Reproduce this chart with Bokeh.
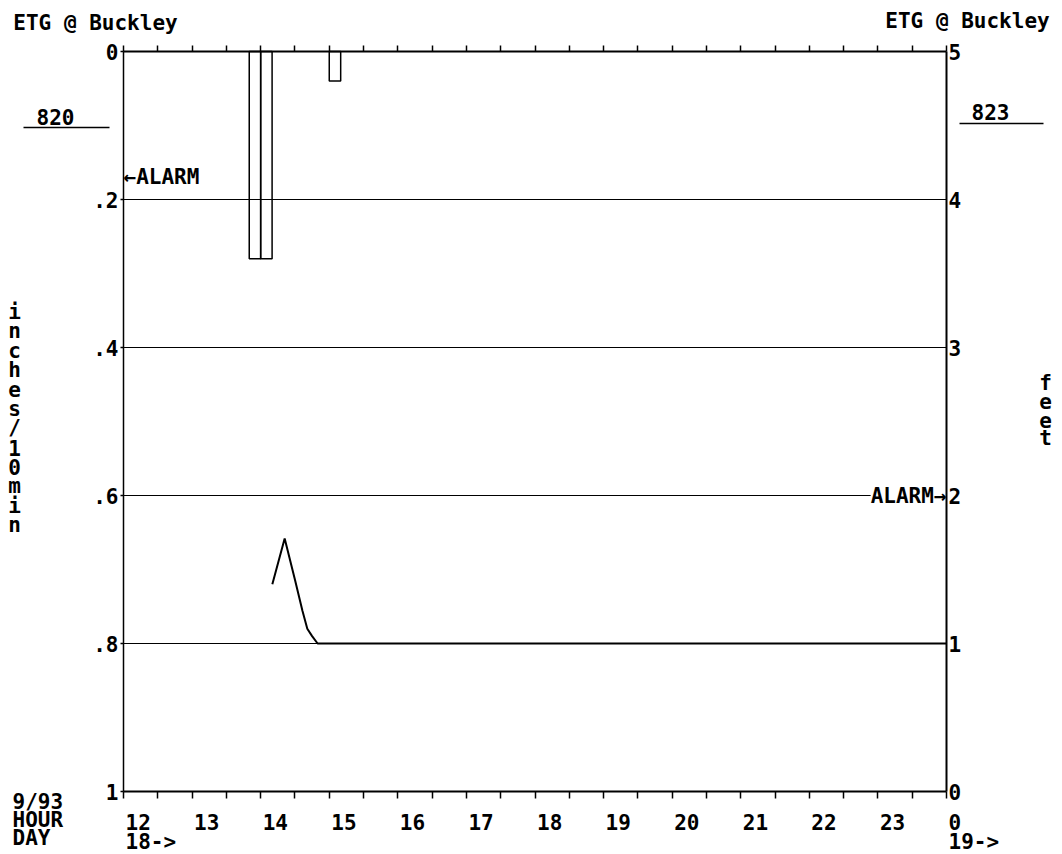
from bokeh.plotting import figure
from bokeh.models import (Range1d, LinearAxis, FixedTicker, Label, LabelSet,
                          ColumnDataSource, Arrow)
from bokeh.embed import file_html
from bokeh.resources import INLINE
from bokeh.core.properties import value

# ---------------- data ----------------
station = "ETG @ Buckley"
rain_gauge_id = "820"
stage_gauge_id = "823"

rain_start_hour = [13 + 50 / 60, 14.0, 15.0]      # 10-minute rainfall intervals
rain_inches = [0.28, 0.28, 0.04]
rain_interval_hours = 10 / 60

stage_hour = [14.17, 14.35, 14.50, 14.61, 14.68, 14.75, 14.83, 24.0]
stage_feet = [1.40, 1.71, 1.43, 1.22, 1.10, 1.05, 1.00, 1.00]

rain_alarm_inches = 0.17
stage_alarm_feet = 2.0

hour_ticks = [12, 13, 14, 15, 16, 17, 18, 19, 20, 21, 22, 23, 24]
hour_labels = ["12", "13", "14", "15", "16", "17", "18", "19", "20", "21", "22", "23", "0"]
day_hours = [12, 24]
day_labels = ["18->", "19->"]
inch_ticks = [0, 0.2, 0.4, 0.6, 0.8, 1]
inch_labels = ["0", ".2", ".4", ".6", ".8", "1"]
inch_grid = [0.2, 0.4, 0.6, 0.8]
feet_ticks = [0, 1, 2, 3, 4, 5]
feet_labels = ["0", "1", "2", "3", "4", "5"]
corner_labels = ["9/93", "HOUR", "DAY"]
left_title = "inches/10min"
right_title = "feet"

# ---------------- layout ----------------
W, H = 1062, 854            # canvas
FL, FT = 123, 51            # plot box left / top in pixels
FW, FH = 823, 740           # plot box size in pixels
X0, X1 = 12, 24             # hours shown
I0, I1 = 0, 1               # inches shown (top -> bottom)
F0, F1 = 0, 5               # feet shown (bottom -> top)
FONT = "DejaVu Sans Mono"
FS = "21px"

hp = FW / (X1 - X0)         # pixels per hour
ip = FH / (I1 - I0)         # pixels per inch
fp = FH / (F1 - F0)         # pixels per foot


def hx(dx):
    """pixels right of the plot box's left edge -> hours"""
    return X0 + dx / hp


def iy(dy):
    """pixels below the plot box's top edge -> inches (inverted axis)"""
    return I0 + dy / ip


p = figure(width=W, height=H,
           x_range=Range1d(X0 - FL / hp, X1 + (W - FL - FW) / hp),
           y_range=Range1d(I1 + (H - FT - FH) / ip, I0 - FT / ip),
           x_axis_location=None, y_axis_location=None,
           output_backend="svg", toolbar_location=None,
           min_border=0)
p.extra_y_ranges = {"feet": Range1d(F0 - (H - FT - FH) / fp, F1 + FT / fp)}
p.background_fill_color = "white"
p.border_fill_color = "white"
p.outline_line_color = None
p.grid.visible = False

half_hours = [X0 + 0.5 * k for k in range(int((X1 - X0) * 2) + 1)]


def style_ticks(ax, out):
    ax.major_tick_out = out
    ax.major_tick_in = 0
    ax.minor_tick_out = out
    ax.minor_tick_in = 0
    ax.major_tick_line_width = 1.5
    ax.minor_tick_line_width = 1.5
    ax.major_tick_line_color = "black"
    ax.minor_tick_line_color = "black"
    ax.axis_line_color = "black"


# bottom axis: half-hour ticks (labels are drawn left-aligned below)
ba = LinearAxis(fixed_location=I1, bounds=(X0, X1),
                ticker=FixedTicker(ticks=[], minor_ticks=half_hours))
style_ticks(ba, 7)
ba.axis_line_width = 2
p.add_layout(ba, "below")

# top axis
ta = LinearAxis(fixed_location=I0, bounds=(X0, X1),
                ticker=FixedTicker(ticks=[], minor_ticks=half_hours))
style_ticks(ta, 6)
ta.axis_line_width = 2
p.add_layout(ta, "above")

# left axis: inches / 10 min (inverted)
la = LinearAxis(fixed_location=X0, bounds=(I0, I1),
                ticker=FixedTicker(ticks=inch_ticks))
la.major_label_overrides = {t: l for t, l in zip(inch_ticks, inch_labels)}
style_ticks(la, 3)
la.minor_tick_line_color = None
la.axis_line_width = 1.5
la.major_label_standoff = 2
la.major_label_text_font = FONT
la.major_label_text_font_style = "bold"
la.major_label_text_font_size = FS
la.major_label_text_color = "black"
p.add_layout(la, "left")

# right axis: feet
ra = LinearAxis(y_range_name="feet", fixed_location=X1, bounds=(F0, F1),
                ticker=FixedTicker(ticks=feet_ticks))
ra.major_label_overrides = {t: l for t, l in zip(feet_ticks, feet_labels)}
style_ticks(ra, 0)
ra.minor_tick_line_color = None
ra.axis_line_width = 2
ra.major_label_standoff = 2
ra.major_label_text_font = FONT
ra.major_label_text_font_style = "bold"
ra.major_label_text_font_size = FS
ra.major_label_text_color = "black"
p.add_layout(ra, "right")

# horizontal grid lines across the plot box
p.segment(x0=[X0] * len(inch_grid), x1=[X1] * len(inch_grid),
          y0=inch_grid, y1=inch_grid, line_color="black", line_width=1)

# rainfall bars
p.quad(left=rain_start_hour,
       right=[s + rain_interval_hours for s in rain_start_hour],
       top=[I0] * len(rain_inches), bottom=rain_inches,
       fill_color=None, line_color="black", line_width=1.5)

# stage line
p.line(stage_hour, stage_feet, y_range_name="feet",
       line_color="black", line_width=2)

# alarms
p.add_layout(Label(x=X0, y=rain_alarm_inches, text="\u2190ALARM",
                   text_align="left", text_baseline="middle",
                   text_font=FONT, text_font_style="bold", text_font_size=FS,
                   text_color="black"))
p.add_layout(Label(x=X1, y=stage_alarm_feet, y_range_name="feet",
                   text="ALARM\u2192", text_align="right", text_baseline="middle",
                   text_font=FONT, text_font_style="bold", text_font_size=FS,
                   text_color="black", background_fill_color="white",
                   level="glyph"))


def add_text(txt, dx, dy, align="center"):
    p.add_layout(Label(x=hx(dx), y=iy(dy), text=txt, text_align=align,
                       text_baseline="middle", text_font=FONT,
                       text_font_style="bold", text_font_size=FS,
                       text_color="black"))


# titles and gauge ids
add_text(station, -28, -29)
add_text(station, 844, -31)
add_text(rain_gauge_id, -68, 65)
add_text(stage_gauge_id, 867, 60)
for (xa0, xa1, yy) in [(-100, -14, 76), (836, 920, 72)]:
    p.add_layout(Arrow(x_start=hx(xa0), x_end=hx(xa1), y_start=iy(yy), y_end=iy(yy),
                       start=None, end=None, line_color="black", line_width=1.5))


def label_set(xs, ys, texts, align):
    src = ColumnDataSource(dict(x=xs, y=ys, t=texts))
    p.add_layout(LabelSet(x="x", y="y", text="t", source=src,
                          text_align=align, text_baseline="middle",
                          text_font=value(FONT), text_font_style="bold",
                          text_font_size=FS, text_color="black"))


# bottom hour / day labels (left aligned at their ticks)
label_set([h + 2 / hp for h in hour_ticks], [iy(FH + 30)] * len(hour_ticks),
          hour_labels, "left")
label_set([h + 2 / hp for h in day_hours], [iy(FH + 50)] * len(day_hours),
          day_labels, "left")

# corner labels
label_set([hx(-111)] * len(corner_labels),
          [iy(FH + d) for d in (10, 28, 46)], corner_labels, "left")


# stacked axis titles
def stacked(txt, dx, dy_center, spacing):
    n = len(txt)
    label_set([hx(dx)] * n,
              [iy(dy_center + (k - (n - 1) / 2) * spacing) for k in range(n)],
              list(txt), "center")


stacked(left_title, -109, 367, 19.4)
stacked(right_title, 922, 359, 18.5)

open("out.html", "w").write(file_html(p, INLINE))
